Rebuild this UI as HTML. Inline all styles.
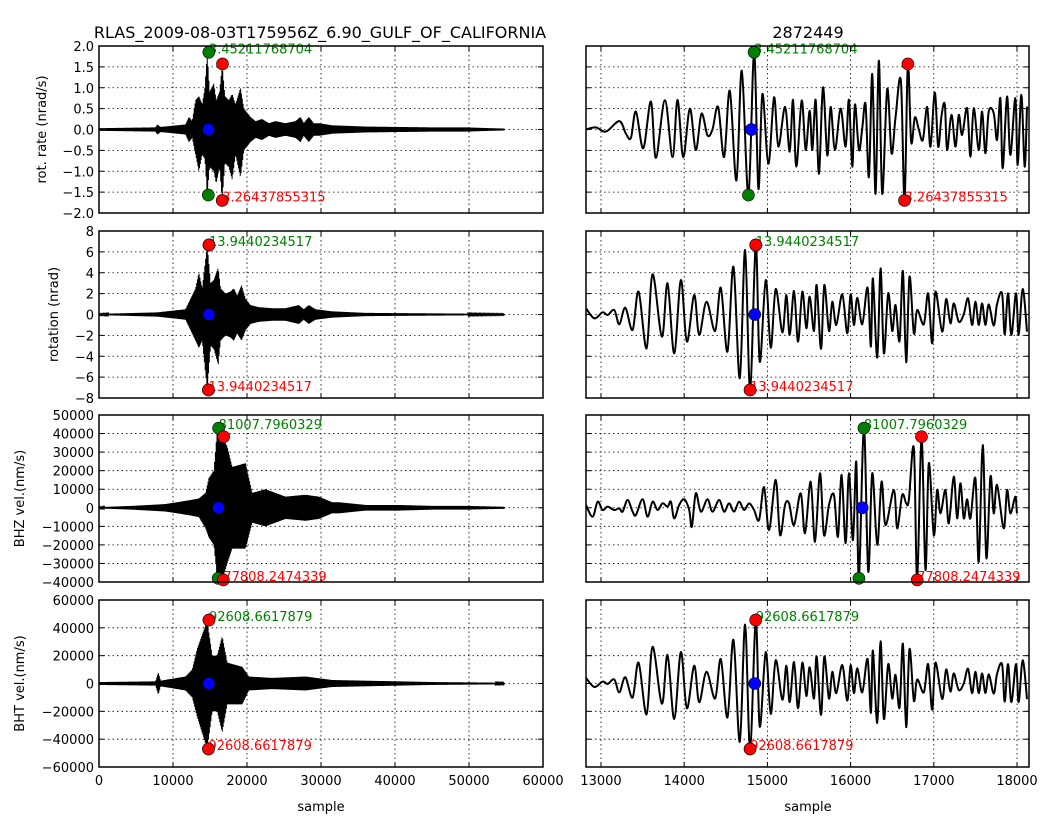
<!DOCTYPE html>
<html><head><meta charset="utf-8">
<style>
html,body{margin:0;padding:0;background:#fff;}
svg{display:block;font-family:"DejaVu Sans","Liberation Sans",sans-serif;}
</style></head>
<body>
<svg id="fig" width="1054" height="819" viewBox="0 0 1054 819" xmlns="http://www.w3.org/2000/svg">
<rect width="1054" height="819" fill="#fff"/>
<text x="320" y="38" font-size="16" text-anchor="middle">RLAS_2009-08-03T175956Z_6.90_GULF_OF_CALIFORNIA</text>
<text x="808" y="38" font-size="16" text-anchor="middle">2872449</text>
<text x="321" y="811" font-size="13" text-anchor="middle">sample</text>
<text x="808" y="811" font-size="13" text-anchor="middle">sample</text>
</svg>
<script>
// ---------- data ----------
const rotRateSamples=[12820,12940,13060,13220,13300,13360,13420,13508,13600,13660,13768,13860,13920,13988,14068,14140,14208,14280,14340,14408,14480,14548,14628,14692,14772,14840,14892,14940,15012,15080,15132,15212,15268,15308,15348,15412,15460,15508,15540,15580,15620,15668,15720,15760,15812,15880,15940,15980,16020,16052,16100,16140,16180,16220,16260,16300,16340,16380,16440,16492,16540,16604,16648,16688,16728,16772,16820,16868,16920,16960,17012,17052,17092,17132,17160,17212,17260,17300,17340,17400,17440,17480,17540,17580,17620,17660,17720,17760,17800,17828,17880,17920,17980,18008,18052,18092,18120];
const rotRateValues=[0,0.05,-0.05,0.2,-0.1,-0.2,0.43,-0.45,0.67,-0.68,0.7,-0.66,0.71,-0.66,0.5,-0.49,0.38,-0.14,0.0,0.54,-0.66,0.93,-1.22,1.41,-1.57,1.85,-1.42,0.85,-0.82,0.77,-0.41,0.54,-0.53,0.71,-0.89,0.69,-0.49,0.45,-0.49,0.71,-1.06,1.01,-0.62,0.54,-0.49,0.5,-0.41,0.71,-0.89,0.6,-0.49,0.03,0.6,-1.14,1.33,-1.54,1.65,-1.54,0.97,-0.57,0.29,1.17,-1.7,1.57,-0.3,0.29,0.0,-0.25,0.54,-0.41,0.89,-0.41,0.32,0.6,-0.49,0.35,-0.41,0.35,-0.13,0.51,-0.65,0.51,-0.49,0.43,-0.57,0.43,0.39,-0.25,0.75,-0.93,0.79,-0.61,0.75,-0.85,0.83,-0.89,0.55];

const rotSamples=[12820,12920,13020,13080,13160,13220,13292,13380,13452,13548,13620,13732,13800,13880,13960,14032,14120,14180,14268,14372,14440,14520,14592,14668,14732,14792,14860,14908,14980,15040,15100,15180,15228,15268,15320,15368,15420,15468,15508,15560,15592,15644,15684,15740,15780,15828,15900,15960,16000,16040,16080,16140,16204,16244,16268,16320,16360,16400,16452,16500,16540,16588,16628,16668,16708,16760,16800,16880,16932,16980,17020,17100,17148,17200,17240,17300,17360,17412,17460,17500,17540,17580,17620,17660,17720,17760,17820,17852,17892,17932,17988,18020,18068,18120];
const rotValues=[0.59,-0.37,0.21,-0.05,0.43,-0.94,0.65,-1.48,2.19,-3.24,3.85,-2.12,2.99,-3.72,3.3,-2.6,1.87,-1.96,1.23,-1.58,2.57,-3.56,4.58,-6.11,6.18,-7.23,6.66,-4.52,3.3,-3.18,2.44,-1.71,1.87,-1.96,2.25,-2.6,2.19,-1.32,1.71,-1.58,2.83,-3.3,2.83,-1.58,1.23,-1.0,1.93,-1.8,1.93,-1.0,1.61,-0.94,2.57,-3.08,3.46,-4.13,4.42,-3.72,2.03,-1.58,0.91,-2.54,4.17,-4.58,3.62,-1.8,0.43,-0.94,2.03,-2.76,2.19,-1.64,1.48,-0.85,1.07,-0.69,0.02,1.55,-1.0,1.23,-1.0,1.07,-1.0,0.97,-1.07,1.0,2.03,-1.9,2.03,-1.96,2.03,-1.96,2.44,-1.64];

const bhzSamples=[12820,12900,12960,13020,13080,13160,13220,13260,13320,13380,13420,13500,13560,13620,13680,13740,13800,13840,13880,13940,14000,14060,14092,14140,14200,14280,14340,14420,14480,14540,14600,14660,14720,14780,14840,14900,14960,15020,15100,15152,15212,15260,15320,15400,15452,15520,15572,15632,15680,15740,15800,15848,15892,15940,15980,16028,16068,16100,16160,16212,16260,16320,16372,16420,16520,16560,16620,16668,16700,16760,16800,16852,16900,16940,17000,17040,17080,17140,17180,17240,17280,17320,17360,17400,17440,17500,17540,17588,17632,17680,17720,17760,17840,17880,17920,17980,18000,18040,18100,18140];
const bhzValues=[1500,-4800,3300,-1200,600,-1200,-300,-2100,4200,-2100,-3900,4600,-4800,3300,-1200,2400,600,3300,-5700,1500,4600,-1200,-10200,7800,-2100,4600,-2100,4200,-2100,2400,-2100,3300,-1200,2400,-1200,-6600,11100,-12000,15000,-14700,1500,2400,-9300,7800,-13700,14100,-18300,18600,-14700,1500,6900,-15600,17700,-19100,18600,-17400,24800,-38000,42900,-34400,18600,-20000,14100,-9300,9600,-11100,6900,2400,4200,32100,-38900,38300,-33500,24000,-14700,9600,-3000,9600,-8400,16800,-5700,13200,-5700,4600,-5700,15900,-29100,33800,-27200,16800,-3000,12300,-11100,9600,-3000,6000,-3000,-12000];

const bhtSamples=[12820,12920,13020,13080,13160,13220,13292,13380,13452,13548,13620,13732,13800,13880,13960,14032,14120,14180,14268,14372,14440,14520,14592,14668,14732,14792,14860,14908,14980,15040,15100,15180,15228,15268,15320,15368,15420,15468,15508,15560,15592,15644,15684,15740,15780,15828,15900,15960,16000,16040,16080,16140,16204,16244,16268,16320,16360,16400,16452,16500,16540,16588,16628,16668,16708,16760,16800,16880,16932,16980,17020,17100,17148,17200,17240,17300,17360,17412,17460,17500,17540,17580,17620,17660,17720,17760,17820,17852,17892,17932,17988,18020,18068,18120];
const bhtValues=[4000,-2500,1400,-300,2900,-6400,4500,-10100,15000,-22200,26400,-14500,20500,-25500,22600,-17800,12800,-13400,8400,-10800,17600,-24400,31400,-41900,42300,-47000,45600,-31000,22600,-21800,16700,-11700,12800,-13400,15400,-17800,15000,-9000,11700,-10800,19400,-22600,19400,-10800,8400,-6900,13200,-12300,13200,-6900,11000,-6400,17600,-21100,23700,-28300,30300,-25500,13900,-10800,6200,-17400,28600,-31400,24800,-12300,2900,-6400,13900,-18900,15000,-11200,10100,-5800,7300,-4700,100,10600,-6900,8400,-6900,7300,-6900,6600,-7300,6900,13900,-13000,13900,-13400,13900,-13400,16700,-11200];

// left panels envelopes
const rotRateEnvSamples=[0,7650,7875,8325,11700,12150,12600,13050,13500,13950,14310,14625,14940,15525,15840,16290,16650,17010,17550,18000,18450,19125,19575,20025,20475,21150,22050,22950,23850,25200,26550,27225,27675,28350,29025,29700,31500,36000,40500,45000,49500,54800];
const rotRateEnvUpper=[0.03,0.05,0.12,0.06,0.12,0.3,0.2,0.7,0.8,0.6,1.0,1.85,0.9,1.1,0.7,0.9,1.55,0.8,0.7,0.85,0.6,1.0,0.5,0.4,0.3,0.2,0.25,0.15,0.2,0.15,0.2,0.3,0.15,0.3,0.15,0.15,0.1,0.07,0.06,0.05,0.05,0.02];
const rotRateEnvLower=[0.03,0.05,0.12,0.06,0.12,0.3,0.2,0.6,1.0,0.6,0.7,1.57,0.9,1.0,1.3,0.9,1.7,0.8,0.9,1.2,0.6,1.15,0.5,0.4,0.3,0.2,0.25,0.15,0.2,0.15,0.2,0.3,0.15,0.3,0.15,0.15,0.1,0.07,0.06,0.05,0.05,0.02];

const rotEnvSamples=[0,7875,11700,12375,13050,13500,13950,14625,15075,15525,16110,16425,17100,17775,18225,18675,19260,19800,20475,21600,23400,25200,27000,27675,28350,29250,31500,36000,45000,54800];
const rotEnvUpper=[0.05,0.2,0.5,1.5,2.5,4.0,2.5,6.66,3.0,3.3,4.5,2.5,2.0,2.2,2.5,1.8,2.8,1.5,0.9,0.7,0.6,0.6,0.9,0.5,0.9,0.5,0.3,0.15,0.1,0.05];
const rotEnvLower=[0.05,0.2,0.5,1.5,2.5,3.2,2.5,7.23,3.0,3.3,4.8,2.5,2.0,2.2,2.5,1.8,2.5,1.5,0.9,0.7,0.6,0.6,0.9,0.5,0.9,0.5,0.3,0.15,0.1,0.05];

const bhzEnvSamples=[0,4500,9000,12150,13500,14400,14850,15525,15975,16650,17325,18000,18900,19800,20700,22500,25200,27900,29700,31500,32400,36000,40500,45000,49500,54800];
const bhzEnvUpper=[300,1000,2000,4000,5000,8000,16000,20000,42000,38000,33000,22000,23000,24000,8000,10000,6000,7000,6000,3000,3000,1500,1500,1000,1000,500];
const bhzEnvLower=[300,1000,2000,4000,5000,11000,16000,20000,38000,39000,30000,22000,22000,22000,8000,10000,6000,7000,6000,3000,3000,1500,1500,1000,1000,500];

const bhtEnvSamples=[0,7650,8010,8325,11700,12600,13275,14625,15300,15975,16650,17325,19350,20250,23400,27900,31500,36000,45000,54800];
const bhtEnvUpper=[1000,1500,8000,2000,5000,10000,25000,45000,20000,20000,34000,15000,12000,5000,4000,5000,2500,2000,1000,500];
const bhtEnvLower=[1000,1500,8000,2000,5000,10000,24000,47000,20000,20000,35000,15000,15000,5000,4000,5000,2500,2000,1000,500];

const rotRateMarks={gmax:[14840,1.85],gmin:[14772,-1.57],rmax:[16688,1.57],rmin:[16648,-1.7],blue:[14808,0]};
const rotMarks={gmax:[14860,6.66],gmin:[14792,-7.23],rmax:[14860,6.66],rmin:[14792,-7.23],blue:[14848,0]};
const bhzMarks={gmax:[16160,42900],gmin:[16100,-38000],rmax:[16852,38300],rmin:[16800,-38900],blue:[16140,0]};
const bhtMarks={gmax:[14860,45600],gmin:[14792,-47000],rmax:[14860,45600],rmin:[14792,-47000],blue:[14848,0]};

const rotRateLabel="3.45211768704", rotRateLabelR="3.26437855315";
const rotLabel="13.9440234517";
const bhzLabelG="81007.7960329", bhzLabelR="77808.2474339";
const bhtLabel="92608.6617879";

const rotRateTicks=[-2.0,-1.5,-1.0,-0.5,0.0,0.5,1.0,1.5,2.0];
const rotTicks=[-8,-6,-4,-2,0,2,4,6,8];
const bhzTicks=[-40000,-30000,-20000,-10000,0,10000,20000,30000,40000,50000];
const bhtTicks=[-60000,-40000,-20000,0,20000,40000,60000];
const leftXTicks=[0,10000,20000,30000,40000,50000,60000];
const rightXTicks=[13000,14000,15000,16000,17000,18000];

// ---------- drawing ----------
const NS="http://www.w3.org/2000/svg";
const svg=document.getElementById('fig');
function mk(tag,attrs,parent){const e=document.createElementNS(NS,tag);for(const k in attrs)e.setAttribute(k,attrs[k]);(parent||svg).appendChild(e);return e;}
const rowsTop=[46,231,415,600], H=167;
const LX=99, LW=444, RX=586, RW=443;
const leftDom=[0,60000], rightDom=[12820,18144];
const panels=[
 {ylab:"rot. rate (nrad/s)",ylx:46,dom:[-2,2],ticks:rotRateTicks,fmt:v=>v.toFixed(1),es:rotRateEnvSamples,eu:rotRateEnvUpper,el:rotRateEnvLower,ts:rotRateSamples,tv:rotRateValues,m:rotRateMarks,lg:rotRateLabel,lr:rotRateLabelR,name:"rot-rate"},
 {ylab:"rotation (nrad)",ylx:58,dom:[-8,8],ticks:rotTicks,fmt:v=>String(v),es:rotEnvSamples,eu:rotEnvUpper,el:rotEnvLower,ts:rotSamples,tv:rotValues,m:rotMarks,lg:rotLabel,lr:rotLabel,name:"rotation"},
 {ylab:"BHZ vel.(nm/s)",ylx:24,dom:[-40000,50000],ticks:bhzTicks,fmt:v=>String(v),es:bhzEnvSamples,eu:bhzEnvUpper,el:bhzEnvLower,ts:bhzSamples,tv:bhzValues,m:bhzMarks,lg:bhzLabelG,lr:bhzLabelR,name:"bhz"},
 {ylab:"BHT vel.(nm/s)",ylx:24,dom:[-60000,60000],ticks:bhtTicks,fmt:v=>String(v),es:bhtEnvSamples,eu:bhtEnvUpper,el:bhtEnvLower,ts:bhtSamples,tv:bhtValues,m:bhtMarks,lg:bhtLabel,lr:bhtLabel,name:"bht"}
];
function interp(xs,ys,x){if(x<=xs[0])return ys[0];for(let i=1;i<xs.length;i++){if(x<=xs[i]){const t=(x-xs[i-1])/(xs[i]-xs[i-1]);return ys[i-1]+t*(ys[i]-ys[i-1]);}}return ys[ys.length-1];}

panels.forEach((p,pi)=>{
  const top=rowsTop[pi];
  const yS=v=>top+H-(v-p.dom[0])/(p.dom[1]-p.dom[0])*H;
  [[LX,LW,leftDom,'left'],[RX,RW,rightDom,'right']].forEach(([x0,w,dom,side])=>{
    const xS=s=>x0+(s-dom[0])/(dom[1]-dom[0])*w;
    const g=mk('g',{});
    
    
    const cid='clip'+pi+side;
    const cp=mk('clipPath',{id:cid},g);mk('rect',{x:x0,y:top,width:w,height:H},cp);
    const xt= side==='left'?leftXTicks:rightXTicks;
    xt.forEach(t=>{const x=xS(t);if(x>x0+0.5&&x<x0+w-0.5){const l=mk('line',{x1:x,x2:x,y1:top,y2:top+H,stroke:'#000','stroke-width':0.8,'stroke-dasharray':'1.5,3'},g);}});
    p.ticks.forEach(t=>{const y=yS(t);if(y>top+0.5&&y<top+H-0.5){const l=mk('line',{x1:x0,x2:x0+w,y1:y,y2:y,stroke:'#000','stroke-width':0.8,'stroke-dasharray':'1.5,3'},g);}});
    let d='';
    if(side==='left'){
      const sEnd=p.es[p.es.length-1];
      let k=0;
      for(let s=0;s<=sEnd;s+=55){const up=k%2===0;const a=up?interp(p.es,p.eu,s):-interp(p.es,p.el,s);d+=(k===0?'M':'L')+xS(s).toFixed(2)+','+yS(a).toFixed(2);k++;}
      const tr=mk('path',{d:d,fill:'none',stroke:'#000','stroke-width':1,'clip-path':'url(#'+cid+')'},g);
      
    } else {
      const P=p.ts.map((s,i)=>[xS(s),yS(p.tv[i])]);
      d='M'+P[0][0]+','+P[0][1];
      for(let i=0;i<P.length-1;i++){const a=P[i-1]||P[i],b=P[i],c=P[i+1],e=P[i+2]||c;
        const c1=[b[0]+(c[0]-a[0])/6,b[1]+(c[1]-a[1])/6],c2=[c[0]-(e[0]-b[0])/6,c[1]-(e[1]-b[1])/6];
        d+=`C${c1[0].toFixed(2)},${c1[1].toFixed(2)} ${c2[0].toFixed(2)},${c2[1].toFixed(2)} ${c[0].toFixed(2)},${c[1].toFixed(2)}`;}
      const tr=mk('path',{d:d,fill:'none',stroke:'#000','stroke-width':2,'stroke-linejoin':'round','clip-path':'url(#'+cid+')'},g);
      
    }
    const gl=mk('text',{x:xS(p.m.gmax[0]),y:yS(p.m.gmax[1])+1,'font-size':13,fill:'#008000'},g);gl.textContent=p.lg;
    
    const rl=mk('text',{x:xS(p.m.rmin[0]),y:yS(p.m.rmin[1])+1,'font-size':13,fill:'#ff0000'},g);rl.textContent=p.lr;
    
    [['gmin','#008000'],['gmax','#008000'],['rmin','#ff0000'],['rmax','#ff0000'],['blue','#0000ff']].forEach(([k,c])=>{
      const cc=mk('circle',{cx:xS(p.m[k][0]),cy:yS(p.m[k][1]),r:6,fill:c,stroke:'#000','stroke-width':0.6},g);
      
    });
    const fr=mk('rect',{x:x0,y:top,width:w,height:H,fill:'none',stroke:'#000','stroke-width':1.5},g);
    
    xt.forEach(t=>{const x=xS(t);if(x>=x0-0.5&&x<=x0+w+0.5){mk('line',{x1:x,x2:x,y1:top,y2:top+5,stroke:'#000'},g);mk('line',{x1:x,x2:x,y1:top+H,y2:top+H-5,stroke:'#000'},g);
      if(pi===3){const tl=mk('text',{x:x,y:top+H+18,'font-size':13,'text-anchor':'middle'},g);tl.textContent=String(t);}}});
    p.ticks.forEach(t=>{const y=yS(t);mk('line',{x1:x0,x2:x0+5,y1:y,y2:y,stroke:'#000'},g);mk('line',{x1:x0+w,x2:x0+w-5,y1:y,y2:y,stroke:'#000'},g);
      if(side==='left'){const tl=mk('text',{x:x0-5,y:y+5,'font-size':13,'text-anchor':'end'},g);tl.textContent=p.fmt(t).replace('-','\u2212');}});
  });
  const yl=mk('text',{x:p.ylx,y:top+H/2,'font-size':13,'text-anchor':'middle',transform:`rotate(-90 ${p.ylx} ${top+H/2})`});
  yl.textContent=p.ylab;
  
  
});
</script>
</body></html>
